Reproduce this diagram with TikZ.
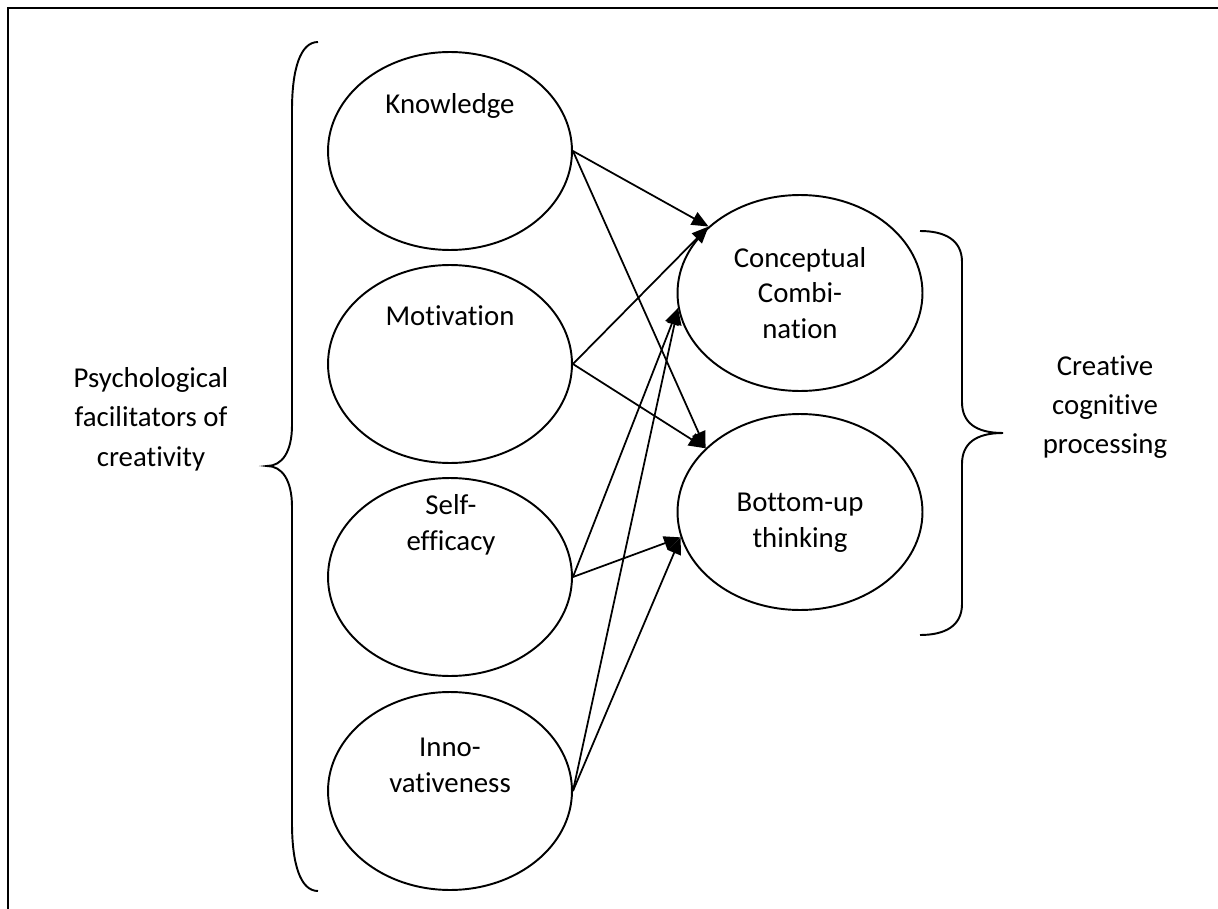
\documentclass[tikz,border=0pt]{standalone}
\usepackage{fontspec}
\setmainfont{Carlito}[Ligatures=NoCommon]
\usetikzlibrary{shapes.geometric,arrows.meta}
\begin{document}
\begin{tikzpicture}[x=0.02cm,y=-0.02cm,
  every node/.style={font=\fontsize{16.4}{20.4}\selectfont},
  factor/.style={draw, ellipse, line width=1.1pt, minimum width=4.88cm, minimum height=3.96cm, inner sep=0pt},
  process/.style={draw, ellipse, line width=1.1pt, minimum width=4.9cm, minimum height=3.92cm, inner sep=0pt},
  lbl/.style={align=center, inner sep=0pt},
  side/.style={align=center, inner sep=0pt, font=\fontsize{16.4}{22.4}\selectfont},
  link/.style={line width=1pt, -{Triangle[length=9.5pt,width=8pt]}},
  brace/.style={line width=1.1pt},
]
\useasboundingbox (0,0) rectangle (1218,909);

% frame
\draw[line width=1.4pt] (8,909) -- (8,8) -- (1220,8);

% facilitators
\node[factor] (K) at (450,151) {};
\node[factor] (M) at (450,364) {};
\node[factor] (S) at (450,577) {};
\node[factor] (I) at (450,791) {};

% cognitive processes
\node[process] (C) at (800,293) {};
\node[process] (B) at (800,512) {};

% texts inside the ellipses
\node[lbl] (Kt) at (450,106) {Knowledge};
\node[lbl] (Mt) at (450,316) {Motivation};
\node[lbl] (St) at (451,525) {Self-\\efficacy};
\node[lbl] (It) at (450,765) {Inno-\\vativeness};
\node[lbl] (Ct) at (800,293) {Conceptual\\Combi-\\nation};
\node[lbl] (Bt) at (800,523) {Bottom-up\\thinking};

% side labels
\node[side] (P) at (151,419) {Psychological\\facilitators of\\creativity};
\node[side] (R) at (1105,407) {Creative\\cognitive\\processing};

% braces
\draw[brace] (318,42) .. controls (300,42) and (292,70) .. (292,110)
  -- (292,425) .. controls (292,452) and (282,466) .. (267,466)
  .. controls (282,466) and (292,480) .. (292,507)
  -- (292,823) .. controls (292,863) and (300,891) .. (318,891);
\draw[brace] (920,231) .. controls (945,231) and (962,240) .. (962,262)
  -- (962,402) .. controls (962,422) and (975,433) .. (1003,433)
  .. controls (975,433) and (962,444) .. (962,464)
  -- (962,604) .. controls (962,626) and (945,635) .. (920,635);

% influences
\draw[link] (K.east) -- (C.144);
\draw[link] (K.east) -- (B.146);
\draw[link] (M.east) -- (C.144);
\draw[link] (M.east) -- (B.146);
\draw[link] (S.east) -- (C.187);
\draw[link] (S.east) -- (B.192);
\draw[link] (I.east) -- (C.187);
\draw[link] (I.east) -- (B.192);
\end{tikzpicture}
\end{document}
